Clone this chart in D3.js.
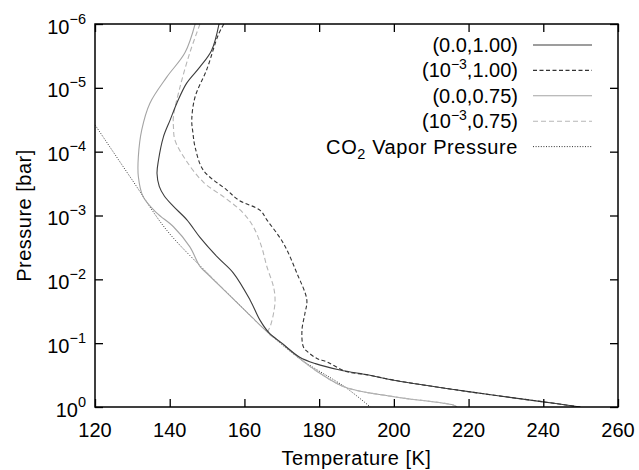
<!DOCTYPE html>
<html>
<head>
<meta charset="utf-8">
<script src="https://cdn.jsdelivr.net/npm/d3@7"></script>
<style>
  html, body { margin: 0; padding: 0; background: #fff; }
  svg { display: block; }
  text { font-family: "Liberation Sans", Arial, Helvetica, sans-serif; fill: #000; }
</style>
</head>
<body>
<svg id="chart" width="639" height="470"></svg>
<script>
// ---------- data (temperature K, pressure bar) ----------
const tempTicks = [120, 140, 160, 180, 200, 220, 240, 260];
const pressTicks = [1e-6, 1e-5, 1e-4, 1e-3, 1e-2, 1e-1, 1e0];
const pressTickExp = ["\u22126", "\u22125", "\u22124", "\u22123", "\u22122", "\u22121", "0"];

// (0.0,1.00)
const seriesA_T = [153.2, 151.2, 148.1, 144.5, 141.9, 140.1, 138.3, 137.0, 136.6, 137.2, 138.6, 141.0, 144.6, 148.1, 152.8, 157.0, 161.5, 164.2, 166.6, 170.0, 174.8, 179.0, 185.6, 193.3, 200.0, 220.0, 240.0, 249.9];
const seriesA_P = [1.0e-6, 2.6e-6, 4.7e-6, 8.5e-6, 1.74e-5, 3.2e-5, 5.9e-5, 1.35e-4, 2.2e-4, 3.5e-4, 5.0e-4, 7.2e-4, 1.17e-3, 2.2e-3, 4.5e-3, 7.9e-3, 2.1e-2, 4.4e-2, 6.9e-2, 1.0e-1, 1.66e-1, 2.09e-1, 2.63e-1, 3.16e-1, 3.8e-1, 5.75e-1, 8.3e-1, 1.0];

// (10^-3,1.00)
const seriesB_T = [154.5, 153.0, 149.9, 146.8, 145.9, 146.2, 146.8, 149.0, 155.3, 158.5, 164.2, 166.0, 170.4, 174.0, 176.7, 176.2, 175.4, 175.8, 177.0, 179.4, 182.0, 187.0, 193.3, 200.0, 220.0, 240.0, 249.9];
const seriesB_P = [1.0e-6, 1.48e-6, 5.2e-6, 1.38e-5, 3.2e-5, 5.0e-5, 8.5e-5, 1.95e-4, 4.0e-4, 5.75e-4, 8.3e-4, 1.17e-3, 2.7e-3, 7.9e-3, 2.1e-2, 3.4e-2, 6.3e-2, 1.15e-1, 1.38e-1, 1.74e-1, 1.95e-1, 2.75e-1, 3.16e-1, 3.8e-1, 5.75e-1, 8.3e-1, 1.0];

// (0.0,0.75)
const seriesC_T = [146.8, 144.1, 139.2, 134.7, 132.5, 131.6, 131.6, 132.9, 136.5, 141.0, 145.4, 148.1, 150.0, 160.0, 166.3, 170.0, 175.0, 180.0, 187.0, 200.0, 215.9, 216.9];
const seriesC_P = [1.0e-6, 2.8e-6, 6.8e-6, 1.74e-5, 4.6e-5, 1.2e-4, 2.45e-4, 5.1e-4, 9.1e-4, 1.5e-3, 3.1e-3, 6.3e-3, 8.1e-3, 3.0e-2, 6.8e-2, 1.0e-1, 1.78e-1, 2.9e-1, 4.9e-1, 6.9e-1, 9.3e-1, 1.0];

// (10^-3,0.75)
const seriesD_T = [148.1, 145.4, 142.8, 141.0, 141.0, 141.4, 144.3, 149.0, 155.0, 159.5, 162.4, 164.6, 166.0, 167.8, 168.2, 167.8, 166.9, 166.3, 170.0, 175.0, 180.0, 187.0, 200.0, 215.9, 216.9];
const seriesD_P = [1.0e-6, 2.8e-6, 9.5e-6, 2.8e-5, 4.1e-5, 6.6e-5, 1.35e-4, 3.0e-4, 5.4e-4, 8.9e-4, 1.51e-3, 3.1e-3, 6.3e-3, 1.32e-2, 2.1e-2, 3.4e-2, 5.5e-2, 6.8e-2, 1.0e-1, 1.78e-1, 2.9e-1, 4.9e-1, 6.9e-1, 9.3e-1, 1.0];

// CO2 vapor pressure
const vapor_T = [120.0, 130.0, 139.2, 150.0, 160.0, 166.3, 175.0, 187.0, 193.7];
const vapor_P = [3.8e-5, 2.8e-4, 1.7e-3, 7.9e-3, 3.0e-2, 6.8e-2, 1.78e-1, 4.9e-1, 1.0];

const legendNames = ["(0.0,1.00)", "(10^\u22123,1.00)", "(0.0,0.75)", "(10^\u22123,0.75)", "CO2 Vapor Pressure"];

(function () {
const svg = d3.select("#chart");
const mL = 95, mR = 618, mT = 24, mB = 407;
const x = d3.scaleLinear().domain([120, 260]).range([mL, mR]);
const y = d3.scaleLog().domain([1, 1e-6]).range([mB, mT]);
const FS = 20, SUP = 14.5;

const styles = [
  { T: seriesA_T, P: seriesA_P, color: "#3c3c3c", dash: null, w: 1.1 },
  { T: seriesB_T, P: seriesB_P, color: "#333333", dash: "4,2.5", w: 1.1 },
  { T: seriesC_T, P: seriesC_P, color: "#a4a4a4", dash: null, w: 1.1 },
  { T: seriesD_T, P: seriesD_P, color: "#b6b6b6", dash: "5,3", w: 1.1 },
  { T: vapor_T, P: vapor_P, color: "#333333", dash: "1,1.6", w: 1.0 }
];

svg.append("defs").append("clipPath").attr("id", "clip")
  .append("rect").attr("x", mL).attr("y", mT).attr("width", mR - mL).attr("height", mB - mT);

const line = d3.line()
  .x(d => x(d[0]))
  .y(d => y(d[1]))
  .curve(d3.curveCatmullRom.alpha(0.5));

const plot = svg.append("g").attr("clip-path", "url(#clip)");
[4, 2, 3, 0, 1].forEach(i => {
  const s = styles[i];
  const pts = s.T.map((t, k) => [t, s.P[k]]);
  plot.append("path")
    .attr("d", line(pts))
    .attr("fill", "none")
    .attr("stroke", s.color)
    .attr("stroke-width", s.w)
    .attr("stroke-dasharray", s.dash);
});

// ---------- axes ----------
const tickLen = 8;
const axB = svg.append("g").attr("transform", `translate(0,${mB})`)
  .call(d3.axisBottom(x).tickValues(tempTicks).tickSize(-tickLen).tickFormat(""));
const axT = svg.append("g").attr("transform", `translate(0,${mT})`)
  .call(d3.axisTop(x).tickValues(tempTicks).tickSize(-tickLen).tickFormat(""));
const axL = svg.append("g").attr("transform", `translate(${mL},0)`)
  .call(d3.axisLeft(y).tickValues(pressTicks).tickSize(-tickLen).tickFormat(""));
const axR = svg.append("g").attr("transform", `translate(${mR},0)`)
  .call(d3.axisRight(y).tickValues(pressTicks).tickSize(-tickLen).tickFormat(""));
[axB, axT, axL, axR].forEach(a => {
  a.select(".domain").remove();
  a.selectAll(".tick line").attr("stroke", "#000").attr("stroke-width", 1.3);
});
svg.append("rect").attr("x", mL).attr("y", mT).attr("width", mR - mL).attr("height", mB - mT)
  .attr("fill", "none").attr("stroke", "#000").attr("stroke-width", 1.5);

// x tick labels
svg.append("g").selectAll("text").data(tempTicks).join("text")
  .attr("x", d => x(d)).attr("y", 437)
  .attr("text-anchor", "middle").attr("font-size", FS)
  .text(d => d);

// y tick labels
const yl = svg.append("g").selectAll("text").data(pressTicks).join("text")
  .attr("x", 86).attr("y", (d) => y(d) + 9.5)
  .attr("text-anchor", "end").attr("font-size", FS);
yl.append("tspan").text("10");
yl.append("tspan").attr("dy", -10).attr("font-size", SUP).text((d, i) => pressTickExp[i]);

// axis titles
svg.append("text").attr("x", (mL + mR) / 2).attr("y", 465)
  .attr("text-anchor", "middle").attr("font-size", FS).attr("letter-spacing", 0.5)
  .text("Temperature [K]");
svg.append("text").attr("transform", `translate(31,${(mT + mB) / 2}) rotate(-90)`)
  .attr("text-anchor", "middle").attr("font-size", FS).attr("letter-spacing", 0.5)
  .text("Pressure [bar]");

// ---------- legend ----------
const legX = 518, lineX1 = 533, lineX2 = 592, legY0 = 45, legDy = 25.4;
legendNames.forEach((name, i) => {
  const yy = legY0 + i * legDy;
  const s = styles[i];
  const t = svg.append("text").attr("x", legX).attr("y", yy + 7)
    .attr("text-anchor", "end").attr("font-size", FS);
  if (name.includes("^")) {
    const m = name.match(/^\((\d+)\^([^,]+)(.*)$/);
    t.append("tspan").text("(" + m[1]);
    t.append("tspan").attr("dy", -8.5).attr("font-size", 14).text(m[2]);
    t.append("tspan").attr("dy", 8.5).text(m[3]);
  } else if (name.startsWith("CO2")) {
    t.attr("letter-spacing", 0.6);
    t.append("tspan").text("CO");
    t.append("tspan").attr("dy", 5).attr("font-size", SUP).text("2");
    t.append("tspan").attr("dy", -5).text(name.slice(3));
  } else {
    t.text(name);
  }
  svg.append("line").attr("x1", lineX1).attr("x2", lineX2).attr("y1", yy).attr("y2", yy)
    .attr("stroke", s.color).attr("stroke-width", s.w).attr("stroke-dasharray", s.dash);
});
})();
</script>
</body>
</html>
